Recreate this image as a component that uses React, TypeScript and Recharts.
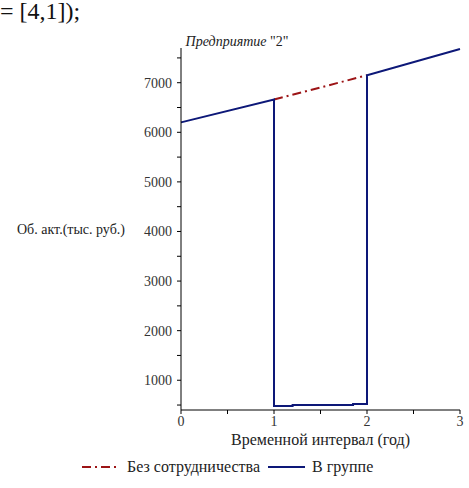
import React from "react";
import { LineChart, Line, XAxis, YAxis, Legend } from "recharts";

// ─── Data ─────────────────────────────────────────────────────────────────────

const inGroupX = [0, 1, 1, 1.2, 1.2, 1.85, 1.85, 2, 2, 3];
const inGroupY = [6200, 6660, 480, 480, 500, 500, 520, 520, 7150, 7680];

const noCoopX = [1, 2];
const noCoopY = [6660, 7150];

const xTicks = [0, 0.5, 1, 1.5, 2, 2.5, 3];
const yTicks = [500, 1000, 1500, 2000, 2500, 3000, 3500, 4000, 4500, 5000, 5500, 6000, 6500, 7000, 7500];

const seriesNames = ["Без сотрудничества", "В группе"];

const inGroupData = inGroupX.map((x, i) => ({ x, y: inGroupY[i] }));
const noCoopData = noCoopX.map((x, i) => ({ x, y: noCoopY[i] }));

const BLUE = "#0d1878";
const RED = "#9c1416";
const FONT = "Liberation Serif";

// ─── Legend ───────────────────────────────────────────────────────────────────

const ChartLegend = () => (
  <div
    style={{
      display: "flex",
      alignItems: "center",
      justifyContent: "flex-start",
      paddingLeft: 82,
      marginTop: 3,
      fontFamily: FONT,
      fontSize: 16,
      color: "#222",
    }}
  >
    <svg width={37} height={10}>
      <line x1={0} y1={5} x2={37} y2={5} stroke={RED} strokeWidth={2} strokeDasharray="9 4 2 4" />
    </svg>
    <span style={{ marginLeft: 8 }}>{seriesNames[0]}</span>
    <svg width={37} height={10} style={{ marginLeft: 8 }}>
      <line x1={0} y1={5} x2={37} y2={5} stroke={BLUE} strokeWidth={2} />
    </svg>
    <span style={{ marginLeft: 7 }}>{seriesNames[1]}</span>
  </div>
);

// ─── Chart ────────────────────────────────────────────────────────────────────

export default function App() {
  const tickStyle = { fontSize: 14, fill: "#333", fontFamily: FONT };

  return (
    <div
      style={{
        position: "absolute",
        left: 0,
        top: 0,
        width: 469,
        height: 488,
        background: "#fff",
        fontFamily: FONT,
        overflow: "hidden",
      }}
    >
      <LineChart width={469} height={488} margin={{ top: 48, right: 9, left: 0, bottom: 0 }}>
        <XAxis
          type="number"
          dataKey="x"
          domain={[0, 3]}
          ticks={xTicks}
          tickFormatter={(v) => (Number.isInteger(v) ? String(v) : "")}
          tick={tickStyle}
          tickSize={4}
          tickMargin={2}
          stroke="#000"
          height={45}
          allowDuplicatedCategory={false}
          label={{
            value: "Временной интервал (год)",
            position: "insideBottom",
            offset: 10,
            style: { fontSize: 16, fill: "#222", fontFamily: FONT },
          }}
        />
        <YAxis
          type="number"
          domain={[400, 7700]}
          ticks={yTicks}
          tickFormatter={(v) => (v % 1000 === 0 ? String(v) : "")}
          tick={tickStyle}
          tickSize={4}
          tickMargin={5}
          stroke="#000"
          width={181}
          allowDataOverflow
          label={{
            value: "Об. акт.(тыс. руб.)",
            position: "insideLeft",
            offset: 17,
            style: { fontSize: 14, fill: "#222", fontFamily: FONT, textAnchor: "start" },
          }}
        />
        <Legend verticalAlign="bottom" height={33} content={() => <ChartLegend />} />
        <Line
          data={noCoopData}
          dataKey="y"
          name={seriesNames[0]}
          type="linear"
          stroke={RED}
          strokeWidth={2}
          strokeDasharray="9 4 2 4"
          dot={false}
          isAnimationActive={false}
        />
        <Line
          data={inGroupData}
          dataKey="y"
          name={seriesNames[1]}
          type="linear"
          stroke={BLUE}
          strokeWidth={2}
          dot={false}
          isAnimationActive={false}
        />
      </LineChart>
      <svg
        width={469}
        height={488}
        style={{ position: "absolute", left: 0, top: 0, pointerEvents: "none" }}
      >
        <text x={0} y={19} fontFamily={FONT} fontSize={24} fill="#111">
          = [4,1]);
        </text>
        <text x={237} y={46} textAnchor="middle" fontFamily={FONT} fontSize={14} fill="#222">
          <tspan fontStyle="italic">Предприятие</tspan>
          <tspan>{' "2"'}</tspan>
        </text>
      </svg>
    </div>
  );
}
